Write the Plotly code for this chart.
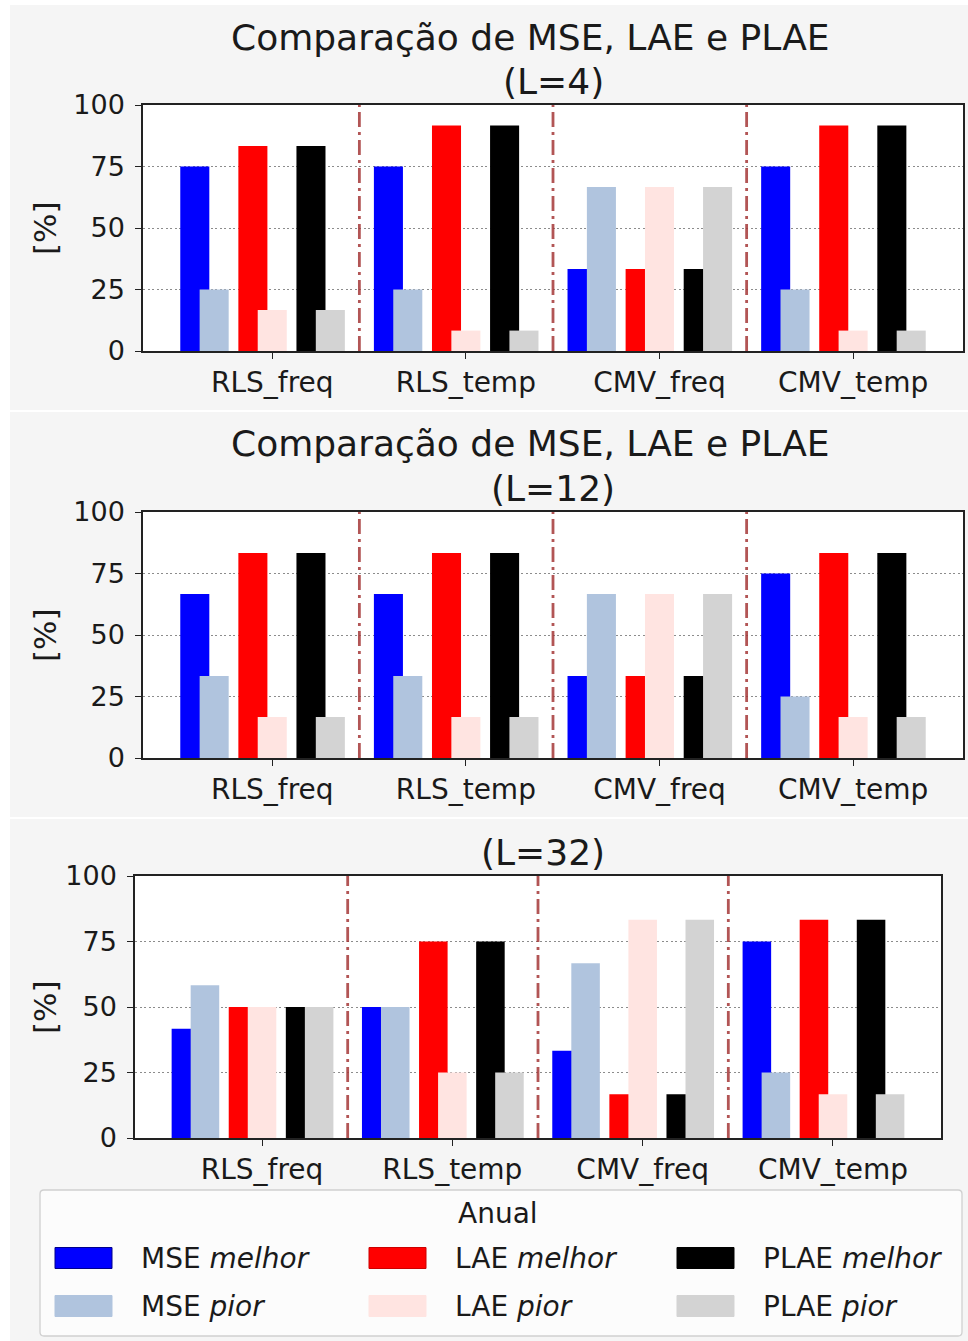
import plotly.graph_objects as go

# ---------------------------------------------------------------- data
categories = ["RLS_freq", "RLS_temp", "CMV_freq", "CMV_temp"]

# L = 4
l4_mse_melhor = [75.0, 75.0, 33.3, 75.0]
l4_mse_pior = [25.0, 25.0, 66.7, 25.0]
l4_lae_melhor = [83.3, 91.7, 33.3, 91.7]
l4_lae_pior = [16.7, 8.3, 66.7, 8.3]
l4_plae_melhor = [83.3, 91.7, 33.3, 91.7]
l4_plae_pior = [16.7, 8.3, 66.7, 8.3]

# L = 12
l12_mse_melhor = [66.7, 66.7, 33.3, 75.0]
l12_mse_pior = [33.3, 33.3, 66.7, 25.0]
l12_lae_melhor = [83.3, 83.3, 33.3, 83.3]
l12_lae_pior = [16.7, 16.7, 66.7, 16.7]
l12_plae_melhor = [83.3, 83.3, 33.3, 83.3]
l12_plae_pior = [16.7, 16.7, 66.7, 16.7]

# L = 32
l32_mse_melhor = [41.7, 50.0, 33.3, 75.0]
l32_mse_pior = [58.3, 50.0, 66.7, 25.0]
l32_lae_melhor = [50.0, 75.0, 16.7, 83.3]
l32_lae_pior = [50.0, 25.0, 83.3, 16.7]
l32_plae_melhor = [50.0, 75.0, 16.7, 83.3]
l32_plae_pior = [50.0, 25.0, 83.3, 16.7]

y_ticks = [0, 25, 50, 75, 100]

# ---------------------------------------------------------------- styling
W, H = 968, 1341
FONT = "DejaVu Sans"
TXT = "#1a1a1a"
SERIES = [  # label, colour, bar centre offset inside a group
    ("MSE <i>melhor</i>", "#0000ff", -0.40),
    ("MSE <i>pior</i>", "#b0c4de", -0.30),
    ("LAE <i>melhor</i>", "#ff0000", -0.10),
    ("LAE <i>pior</i>", "#ffe4e1", 0.00),
    ("PLAE <i>melhor</i>", "#000000", 0.20),
    ("PLAE <i>pior</i>", "#d3d3d3", 0.30),
]
BAR_W = 0.15
SEP_COLOR = "rgba(165,55,55,0.85)"


def fx(px):
    return px / W


def fy(py):
    return 1 - py / H


panels = [
    dict(
        values=[l4_mse_melhor, l4_mse_pior, l4_lae_melhor, l4_lae_pior, l4_plae_melhor, l4_plae_pior],
        box=(143, 963, 105, 351), bg=(5, 410),
        title=["Comparação de MSE, LAE e PLAE", "(L=4)"], title_y=[37, 81], title_dx=[-23, 0],
    ),
    dict(
        values=[l12_mse_melhor, l12_mse_pior, l12_lae_melhor, l12_lae_pior, l12_plae_melhor, l12_plae_pior],
        box=(143, 963, 512, 758), bg=(412, 817),
        title=["Comparação de MSE, LAE e PLAE", "(L=12)"], title_y=[443, 488], title_dx=[-23, 0],
    ),
    dict(
        values=[l32_mse_melhor, l32_mse_pior, l32_lae_melhor, l32_lae_pior, l32_plae_melhor, l32_plae_pior],
        box=(135, 941, 876, 1138), bg=(819, 1341),
        title=["(L=32)"], title_y=[852], title_dx=[5],
    ),
]

fig = go.Figure()
shapes = []
annotations = []
layout_axes = {}

n = len(categories)
xs = list(range(n))
lo = min(s[2] for s in SERIES) - BAR_W / 2
hi = max(s[2] for s in SERIES) + BAR_W / 2
pad = 0.05 * ((n - 1) + hi - lo)
x_range = [lo - pad, (n - 1) + hi + pad]

for k, p in enumerate(panels, start=1):
    x0, x1, y0, y1 = p["box"]
    xa = "x" if k == 1 else f"x{k}"
    ya = "y" if k == 1 else f"y{k}"

    # grey panel and white plotting area
    shapes.append(dict(type="rect", xref="paper", yref="paper", layer="below",
                       x0=fx(10), x1=1, y0=fy(p["bg"][1]), y1=fy(p["bg"][0]),
                       fillcolor="#f5f5f5", line_width=0))
    shapes.append(dict(type="rect", xref="paper", yref="paper", layer="below",
                       x0=fx(x0), x1=fx(x1), y0=fy(y1), y1=fy(y0),
                       fillcolor="#ffffff", line_width=0))

    for (name, color, off), vals in zip(SERIES, p["values"]):
        fig.add_trace(go.Bar(
            x=xs, y=vals, width=BAR_W, offset=off - BAR_W / 2,
            marker=dict(color=color, line_width=0),
            name=name, showlegend=False, xaxis=xa, yaxis=ya,
        ))

    # dash-dot separators between groups
    for i in range(n - 1):
        shapes.append(dict(type="line", xref=xa, yref=f"{ya} domain",
                           x0=i + 0.45, x1=i + 0.45, y0=0, y1=1,
                           line=dict(color=SEP_COLOR, width=2.8, dash="15px,5px,3px,5px")))

    axis_common = dict(showline=True, mirror=True, linecolor="#222222", linewidth=1.5,
                       ticks="outside", ticklen=6, tickwidth=1.3, tickcolor="#222222",
                       zeroline=False)
    layout_axes["xaxis" if k == 1 else f"xaxis{k}"] = dict(
        domain=[fx(x0), fx(x1)], anchor=ya, range=x_range,
        tickvals=xs, ticktext=categories, showgrid=False,
        tickfont=dict(family=FONT, size=28, color=TXT), **axis_common)
    layout_axes["yaxis" if k == 1 else f"yaxis{k}"] = dict(
        domain=[fy(y1), fy(y0)], anchor=xa, range=[0, 100],
        tickvals=y_ticks, showgrid=True, gridcolor="#8c8c8c", gridwidth=1.2,
        griddash="2px,2.5px", ticklabelstandoff=5,
        tickfont=dict(family=FONT, size=27, color=TXT), **axis_common)

    for line, ty, dx in zip(p["title"], p["title_y"], p["title_dx"]):
        annotations.append(dict(text=line, xref="paper", yref="paper",
                                x=fx((x0 + x1) / 2 + dx), y=fy(ty), xanchor="center", yanchor="middle",
                                showarrow=False, font=dict(family=FONT, size=36, color=TXT)))
    annotations.append(dict(text="[%]", xref="paper", yref="paper",
                            x=fx(45), y=fy((y0 + y1) / 2), textangle=-90,
                            xanchor="center", yanchor="middle", showarrow=False,
                            font=dict(family=FONT, size=31, color=TXT)))

# ---------------------------------------------------------------- legend box
shapes.append(dict(type="path", xref="paper", yref="paper", layer="above",
                   path=(f"M {fx(44)},{fy(1190)} L {fx(958)},{fy(1190)} "
                         f"Q {fx(962)},{fy(1190)} {fx(962)},{fy(1194)} L {fx(962)},{fy(1332)} "
                         f"Q {fx(962)},{fy(1336)} {fx(958)},{fy(1336)} L {fx(44)},{fy(1336)} "
                         f"Q {fx(40)},{fy(1336)} {fx(40)},{fy(1332)} L {fx(40)},{fy(1194)} "
                         f"Q {fx(40)},{fy(1190)} {fx(44)},{fy(1190)} Z"),
                   fillcolor="#fcfcfc", line=dict(color="#d0d0d0", width=1.3)))
annotations.append(dict(text="Anual", xref="paper", yref="paper", x=fx(498), y=fy(1213),
                        xanchor="center", yanchor="middle", showarrow=False,
                        font=dict(family=FONT, size=28, color=TXT)))

col_x = [55, 369, 677]
row_y = [1258, 1306]
legend_order = [0, 2, 4, 1, 3, 5]  # melhor on first row, pior on second
for slot, si in enumerate(legend_order):
    name, color, _ = SERIES[si]
    cx = col_x[slot % 3]
    cy = row_y[slot // 3]
    edge = "#00008b" if color == "#0000ff" else ("#cc0000" if color == "#ff0000" else color)
    shapes.append(dict(type="rect", xref="paper", yref="paper", layer="above",
                       x0=fx(cx), x1=fx(cx + 57), y0=fy(cy + 10.5), y1=fy(cy - 10.5),
                       fillcolor=color, line=dict(color=edge, width=1)))
    annotations.append(dict(text=name, xref="paper", yref="paper", x=fx(cx + 84), y=fy(cy),
                            xanchor="left", yanchor="middle", showarrow=False,
                            font=dict(family=FONT, size=28, color=TXT)))

fig.update_layout(
    width=W, height=H, margin=dict(l=0, r=0, t=0, b=0),
    paper_bgcolor="#ffffff", plot_bgcolor="#ffffff",
    barmode="overlay", showlegend=False, template="none",
    shapes=shapes, annotations=annotations, **layout_axes,
)

fig.write_html("out.html")
